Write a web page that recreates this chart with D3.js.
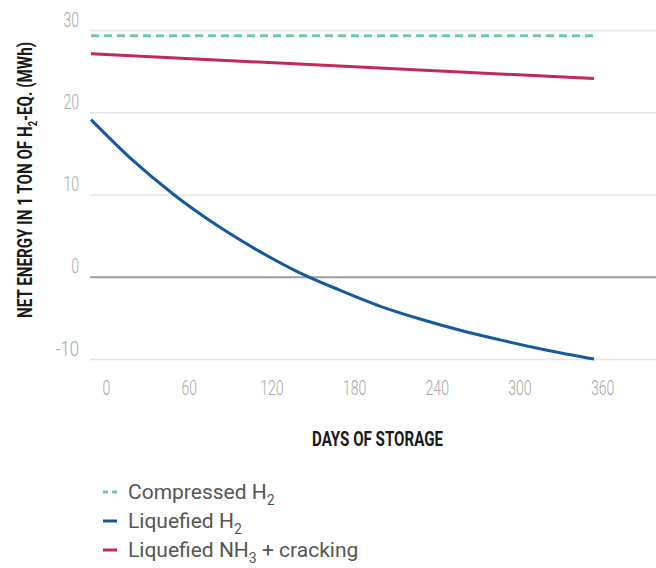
<!DOCTYPE html>
<html>
<head>
<meta charset="utf-8">
<script src="https://cdn.jsdelivr.net/npm/d3@7"></script>
<style>
  html, body { margin: 0; padding: 0; background: #fff; }
</style>
</head>
<body>
<div class="canvas"></div>
<script>
// days of storage and net energy (MWh per ton H2-eq.)
const days = [0, 30, 60, 90, 120, 150, 180, 210, 240, 270, 300, 330, 365];
const liquefiedH2 = [19.1, 14.2, 10.0, 6.4, 3.3, 0.6, -1.6, -3.6, -5.2, -6.6, -7.8, -8.9, -10.0];
const endDays = [0, 365];
const compressedH2 = [29.3, 29.3];
const liquefiedNH3 = [27.1, 24.1];

const yTicks = [-10, 0, 10, 20, 30];
const xTicks = [0, 60, 120, 180, 240, 300, 360];

const series = [
  { name: "Compressed H", sub: "2", rest: "", x: endDays, y: compressedH2, color: "#6ccbb0", dash: "8,5" },
  { name: "Liquefied H", sub: "2", rest: "", x: days, y: liquefiedH2, color: "#155a9c", dash: null },
  { name: "Liquefied NH", sub: "3", rest: " + cracking", x: endDays, y: liquefiedNH3, color: "#c4265e", dash: null }
];

const width = 656, height = 568;
const font = "Roboto, 'DejaVu Sans', sans-serif";

const x = d3.scaleLinear().domain([0, 365]).range([91, 594]);
const y = d3.scaleLinear().domain([-10, 30]).range([359, 30]);

const svg = d3.select('.canvas')
  .append('svg')
  .attr('width', width)
  .attr('height', height)
  .attr('viewBox', [0, 0, width, height]);

// narrow digits: squeeze the text to roughly 8px per char
const squeeze = sel => sel
  .attr("textLength", d => String(d).length * 7.8)
  .attr("lengthAdjust", "spacingAndGlyphs");

// y grid + labels
const yAxis = svg.append("g")
  .attr("transform", "translate(90,0)")
  .call(d3.axisLeft(y).tickValues(yTicks).tickFormat(d => String(d))
    .tickSize(-(width - 90)).tickPadding(11));
yAxis.select(".domain").remove();
yAxis.selectAll(".tick line")
  .attr("stroke", d => d === 0 ? "#9c9c9c" : "#e4e4e4")
  .attr("stroke-width", d => d === 0 ? 2 : 1.5);
yAxis.selectAll(".tick text")
  .attr("dy", "-0.2em")
  .attr("fill", "#a8a8a8")
  .style("font", `300 20px ${font}`)
  .call(squeeze);

// x labels
const xAxis = svg.append("g")
  .attr("transform", "translate(0,377)")
  .call(d3.axisBottom(x).tickValues(xTicks).tickSize(0).tickPadding(4));
xAxis.select(".domain").remove();
xAxis.selectAll(".tick text")
  .attr("dx", 15)
  .attr("fill", "#a8a8a8")
  .style("font", `300 20px ${font}`)
  .call(squeeze);

// lines
series.forEach(s => {
  const pts = s.x.map((d, i) => [d, s.y[i]]);
  svg.append("path")
    .datum(pts)
    .attr("fill", "none")
    .attr("stroke", s.color)
    .attr("stroke-width", 3)
    .attr("stroke-dasharray", s.dash)
    .attr("d", d3.line().x(d => x(d[0])).y(d => y(d[1])).curve(d3.curveMonotoneX));
});

// axis titles
svg.append("text")
  .attr("x", 312)
  .attr("y", 446)
  .attr("textLength", 131)
  .attr("lengthAdjust", "spacingAndGlyphs")
  .attr("fill", "#1a1a1a")
  .style("font", `bold 21px ${font}`)
  .text("DAYS OF STORAGE");

const yt = svg.append("text")
  .attr("transform", "translate(32,318) rotate(-90)")
  .attr("textLength", 276)
  .attr("lengthAdjust", "spacingAndGlyphs")
  .attr("fill", "#1a1a1a")
  .style("font", `bold 21px ${font}`);
yt.append("tspan").text("NET ENERGY IN 1 TON OF H");
yt.append("tspan").attr("dy", 5).style("font-size", "13px").text("2");
yt.append("tspan").attr("dy", -5).text("-EQ. (MWh)");

// legend
const legend = svg.append("g");
series.forEach((s, i) => {
  const gy = 492 + i * 29;
  legend.append("line")
    .attr("x1", 103).attr("x2", 117)
    .attr("y1", gy).attr("y2", gy)
    .attr("stroke", s.color)
    .attr("stroke-width", 3)
    .attr("stroke-dasharray", s.dash ? "5,4" : null);
  const t = legend.append("text")
    .attr("x", 128)
    .attr("y", gy + 7)
    .attr("fill", "#555")
    .style("font", `21px ${font}`);
  t.append("tspan").text(s.name);
  t.append("tspan").attr("dy", 6).style("font-size", "14px").text(s.sub);
  if (s.rest) t.append("tspan").attr("dy", -6).text(s.rest);
});
</script>
</body>
</html>
